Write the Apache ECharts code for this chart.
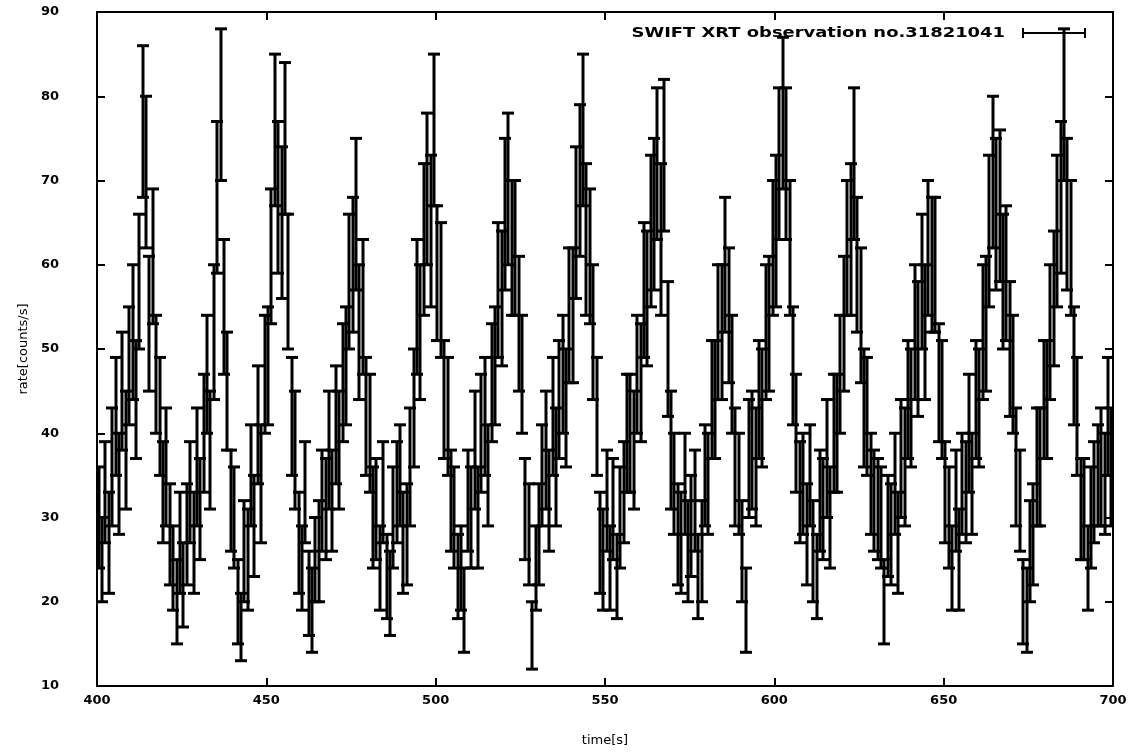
<!DOCTYPE html>
<html><head><meta charset="utf-8">
<script src="https://cdn.jsdelivr.net/npm/echarts@6/dist/echarts.min.js"></script>
<style>html,body{margin:0;padding:0;background:#fff}#c{width:1135px;height:755px}</style>
</head><body><div id="c"></div>
<script>
// 1 s time bins starting at 400 s (bin centres at 400.5, 401.5, ...)
const binStart = 400.5;
const binWidth = 1;
const rate = [
30,25,33,27,36,42,34,45,38,48,
52,44,58,77,71,53,61,47,42,33,
36,28,24,20,27,22,28,33,27,36,
31,40,47,38,52,68,79,55,45,32,
30,20,17,26,25,35,29,41,34,47,
48,61,76,68,65,75,58,42,38,27,
24,33,21,19,25,26,32,31,38,32,
41,38,46,48,58,60,66,52,55,42,
40,30,31,24,33,23,21,30,33,35,
27,28,36,43,55,52,63,69,64,76,
59,57,44,42,32,30,23,24,19,32,
30,38,30,40,42,35,46,48,57,56,
66,69,62,62,53,47,31,28,16,24,
28,35,38,32,42,36,44,47,43,54,
54,65,70,76,63,61,52,42,27,25,
32,24,31,23,30,33,40,40,38,47,
46,57,56,64,66,72,63,73,50,38,
34,28,27,34,26,29,32,23,26,35,
34,44,44,52,52,60,54,47,36,34,
26,19,37,38,36,44,43,52,53,62,
64,72,78,72,62,48,40,33,34,28,
35,26,23,32,31,37,30,40,40,47,
53,62,63,72,60,54,43,42,34,32,
31,30,20,29,28,34,27,37,36,44,
43,52,50,58,52,62,60,60,46,44,
33,30,24,32,25,34,33,40,34,44,
43,52,53,64,71,66,67,58,59,50,
47,36,32,20,19,26,28,36,36,44,
44,52,56,64,68,79,66,62,48,42,
31,31,24,30,33,35,36,34,42,36
];
const rateErr = [
6,5,6,6,7,7,6,7,7,7,
8,7,8,9,9,8,8,7,7,6,
7,6,5,5,6,5,6,6,6,7,
6,7,7,7,8,9,9,8,7,6,
6,5,4,6,6,6,6,7,7,7,
7,8,9,9,9,9,8,7,7,6,
5,6,5,5,5,6,6,6,7,6,
7,7,7,7,8,8,9,8,8,7,
7,6,6,5,6,5,5,6,6,6,
6,6,7,7,8,8,9,9,9,9,
8,8,7,7,6,6,5,5,5,6,
6,7,6,7,7,6,7,7,8,8,
9,9,8,8,8,7,6,6,4,5,
6,6,7,6,7,7,7,7,7,8,
8,9,9,9,9,8,8,7,6,6,
6,5,6,5,6,6,7,7,7,7,
7,8,8,9,9,9,9,9,8,7,
6,6,6,6,6,6,6,5,6,6,
6,7,7,8,8,8,8,7,7,6,
6,5,7,7,7,7,7,8,8,8,
9,9,9,9,8,7,7,6,6,6,
6,6,5,6,6,7,6,7,7,7,
8,8,9,9,8,8,7,7,6,6,
6,6,5,6,6,6,6,7,7,7,
7,8,8,8,8,8,8,8,7,7,
6,6,5,6,6,6,6,7,6,7,
7,8,8,9,9,9,9,8,8,8,
7,7,6,5,5,6,6,7,7,7,
7,8,8,9,9,9,9,8,7,7,
6,6,5,6,6,6,7,6,7,7
];
const xRange = [400, 700];
const xStep = 50;
const yRange = [10, 90];
const yStep = 10;
const xTitle = 'time[s]';
const yTitle = 'rate[counts/s]';
const legendText = 'SWIFT XRT observation no.31821041';

const pts = rate.map((v, i) => [binStart + i * binWidth, v, rateErr[i]]);

const chart = echarts.init(document.getElementById('c'), null, {renderer: 'canvas'});
const FONT = 'DejaVu Sans';
const axisCommon = {
  type: 'value',
  axisLine: {show: true, onZero: false, lineStyle: {color: '#000', width: 2}},
  axisTick: {show: true, inside: true, length: 8, lineStyle: {color: '#000', width: 2}},
  splitLine: {show: false}
};
chart.setOption({
  animation: false,
  backgroundColor: '#fff',
  grid: {left: 97, right: 22, top: 12, bottom: 69, show: false},
  xAxis: [
    Object.assign({}, axisCommon, {
      min: xRange[0], max: xRange[1], interval: xStep, position: 'bottom',
      axisLabel: {color: '#000', fontFamily: FONT, fontWeight: 'bold', fontSize: 13, margin: 8},
      name: xTitle, nameLocation: 'middle', nameGap: 48,
      nameTextStyle: {color: '#000', fontFamily: FONT, fontSize: 13}
    }),
    Object.assign({}, axisCommon, {
      min: xRange[0], max: xRange[1], interval: xStep, position: 'top',
      axisLabel: {show: false}
    })
  ],
  yAxis: [
    Object.assign({}, axisCommon, {
      min: yRange[0], max: yRange[1], interval: yStep, position: 'left',
      axisLabel: {color: '#000', fontFamily: FONT, fontWeight: 'bold', fontSize: 13, margin: 38},
      name: yTitle, nameLocation: 'middle', nameGap: 67, nameRotate: 90,
      nameTextStyle: {color: '#000', fontFamily: FONT, fontSize: 13}
    }),
    Object.assign({}, axisCommon, {
      min: yRange[0], max: yRange[1], interval: yStep, position: 'right',
      axisLabel: {show: false}
    })
  ],
  series: [{
    type: 'custom',
    name: legendText,
    xAxisIndex: 0, yAxisIndex: 0,
    clip: true,
    data: pts,
    renderItem: function (params, api) {
      const x = api.value(0), v = api.value(1), e = api.value(2);
      const top = api.coord([x, v + e]);
      const bot = api.coord([x, v - e]);
      const hw = 6;
      const st = {stroke: '#000', lineWidth: 3};
      const cx = Math.round(top[0]);
      return {
        type: 'group',
        children: [
          {type: 'line', shape: {x1: cx, y1: top[1], x2: cx, y2: bot[1]}, style: st},
          {type: 'line', shape: {x1: cx - hw, y1: top[1], x2: cx + hw, y2: top[1]}, style: st},
          {type: 'line', shape: {x1: cx - hw, y1: bot[1], x2: cx + hw, y2: bot[1]}, style: st}
        ]
      };
    }
  }],
  graphic: [
    {type: 'text', x: 1005, y: 33, scaleX: 1.28, z: 10,
     style: {text: legendText, fill: '#000', font: 'bold 14px "DejaVu Sans"', textAlign: 'right', textVerticalAlign: 'middle'}},
    {type: 'line', shape: {x1: 1023, y1: 33, x2: 1085, y2: 33}, style: {stroke: '#000', lineWidth: 2}},
    {type: 'line', shape: {x1: 1023, y1: 28, x2: 1023, y2: 38}, style: {stroke: '#000', lineWidth: 2}},
    {type: 'line', shape: {x1: 1085, y1: 28, x2: 1085, y2: 38}, style: {stroke: '#000', lineWidth: 2}}
  ]
});
</script>
</body></html>
